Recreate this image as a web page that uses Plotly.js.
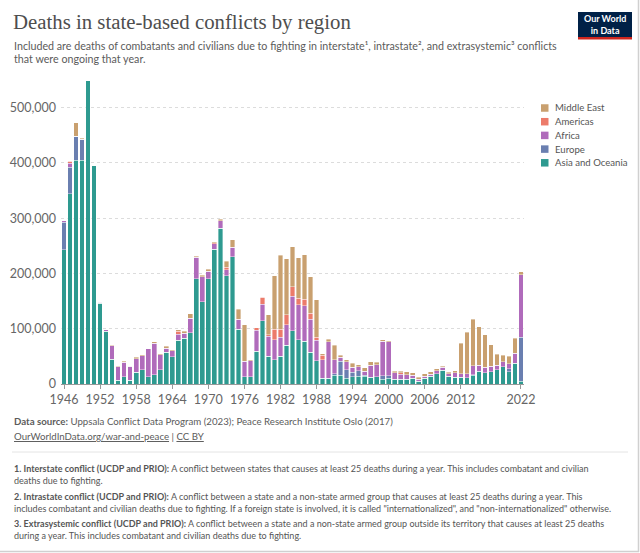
<!DOCTYPE html>
<html>
<head>
<meta charset="utf-8">
<script src="https://cdn.plot.ly/plotly-3.0.1.min.js"></script>
<style>
html,body{margin:0;padding:0;background:#fff;}
#chart{width:640px;height:553px;}
</style>
</head>
<body>
<div id="chart"></div>
<script>
const years = [1946,1947,1948,1949,1950,1951,1952,1953,1954,1955,1956,1957,1958,1959,1960,1961,1962,1963,1964,1965,
1966,1967,1968,1969,1970,1971,1972,1973,1974,1975,1976,1977,1978,1979,1980,1981,1982,1983,1984,1985,
1986,1987,1988,1989,1990,1991,1992,1993,1994,1995,1996,1997,1998,1999,2000,2001,2002,2003,2004,2005,
2006,2007,2008,2009,2010,2011,2012,2013,2014,2015,2016,2017,2018,2019,2020,2021,2022];

const asiaOceania = [243000,344000,405000,405000,549000,395000,146000,95000,45000,7000,13000,7000,21000,26000,13000,17000,26000,57000,49000,79000,
83000,93000,190000,149000,190000,244000,282000,196000,230000,99000,13000,13000,59000,114000,50000,44000,50000,70000,96000,80000,
77000,57000,42000,10000,10000,16000,16000,10000,13000,14000,14000,12000,13000,9000,10000,9000,9000,9000,10000,5000,
10000,14000,19000,25000,14000,12000,12000,11000,16000,22000,20000,22000,26000,31000,22000,38000,5000];

const europe = [50000,48000,43000,38000,0,0,0,0,0,0,0,0,0,0,0,0,0,0,0,0,
0,0,0,0,0,0,0,0,0,0,0,0,0,0,0,0,0,0,0,0,
0,0,0,0,0,3000,25000,16000,8000,10000,2000,0,0,6000,5000,0,0,0,0,0,
0,0,0,0,0,0,0,0,1000,1000,0,0,0,0,6000,0,80000];

const africa = [2000,7000,0,0,0,0,2000,3000,24000,24000,26000,25000,25000,25000,51000,57000,27000,8000,11000,11000,
9000,26000,39000,45000,14000,10000,13000,11000,17000,18000,28000,29000,38000,30000,36000,36000,35000,37000,63000,63000,
65000,60000,37000,34000,66000,25000,7000,14000,9000,7000,7000,22000,22000,62000,61000,11000,9000,8000,6000,4000,
4000,4000,5000,5000,5000,8000,7000,8000,16000,11000,10000,10000,8000,9000,9000,18000,113000];

const americas = [0,4000,0,0,0,0,0,0,0,0,0,0,0,0,0,0,0,0,0,5000,
0,0,0,0,0,2000,0,4000,0,0,0,0,5000,13000,3000,19000,14000,18000,17000,12000,
11000,11000,6000,8000,0,0,0,0,0,0,0,0,0,0,0,0,2000,0,0,0,
0,0,0,0,0,0,0,0,0,0,0,0,0,0,0,0,0];

const middleEast = [0,0,25000,2000,0,0,0,0,1000,1000,2000,0,2000,2000,0,2000,2000,3000,2000,3000,
3000,8000,2000,3000,4000,1000,3000,11000,14000,18000,66000,2000,0,0,36000,97000,134000,102000,72000,73000,
81000,66000,67000,3000,5000,26000,4000,4000,8000,4000,6000,6000,4000,3000,2000,3000,3000,5000,4000,3000,
5000,4000,4000,2000,2000,4000,55000,75000,84000,70000,59000,39000,20000,12000,13000,27000,5000];

const seriesNames = ["Asia and Oceania","Europe","Africa","Americas","Middle East"];
const seriesValues = [asiaOceania, europe, africa, americas, middleEast];
const seriesColors = ["#2e9a90","#6a7fb0","#b06bbb","#ec7b6a","#c9a06f"];

const xTickVals = [1946,1952,1958,1964,1970,1976,1982,1988,1994,2000,2006,2012,2022];
const yTickVals = [0,100000,200000,300000,400000,500000];

const W = 640, H = 553;
const M = {l:61, r:116, t:80, b:169};
const pw = W - M.l - M.r, ph = H - M.t - M.b;
const px = x => (x - M.l) / pw;
const py = y => (H - M.b - y) / ph;

const traces = seriesNames.map((name, i) => ({
  type: 'bar',
  name: name,
  x: years,
  y: seriesValues[i],
  marker: {color: seriesColors[i], line: {color: 'rgba(255,255,255,0.75)', width: 0.5}},
  showlegend: false,
  hovertemplate: '%{x}: %{y:,}<extra>' + name + '</extra>'
}));

const FONT = 'Lato, "Open Sans", sans-serif';
const annotations = [];
const shapes = [];
function textLine(x, y, text, size, color, anchor) {
  annotations.push({xref:'paper', yref:'paper', x:px(x), y:py(y), xanchor:anchor || 'left', yanchor:'middle',
    showarrow:false, text:text, font:{family:FONT, size:size, color:color}});
}

// Title & subtitle
annotations.push({xref:'paper', yref:'paper', x:px(11), y:py(22), xanchor:'left', yanchor:'middle', showarrow:false,
  text:'Deaths in state-based conflicts by region', font:{family:'"Liberation Serif", "DejaVu Serif", serif', size:20.8, color:'#4e4e4e'}});
textLine(12, 45, 'Included are deaths of combatants and civilians due to fighting in interstate¹, intrastate², and extrasystemic³ conflicts', 10.7, '#5b5b5b');
textLine(12, 58.5, 'that were ongoing that year.', 10.7, '#5b5b5b');

// Logo
shapes.push({type:'rect', xref:'paper', yref:'paper', x0:px(578), x1:px(632), y0:py(12), y1:py(39), fillcolor:'#002147', line:{width:0}, layer:'above'});
shapes.push({type:'rect', xref:'paper', yref:'paper', x0:px(578), x1:px(632), y0:py(37), y1:py(39.5), fillcolor:'#ce261e', line:{width:0}, layer:'above'});
annotations.push({xref:'paper', yref:'paper', x:px(605), y:py(24.5), xanchor:'center', yanchor:'middle', showarrow:false,
  text:'<b>Our World<br>in Data</b>', font:{family:FONT, size:9, color:'#ffffff'}});

// Legend (manual, top-to-bottom = reverse stacking order)
const legendTop = 108, legendStep = 13.7;
for (let k = 0; k < seriesNames.length; k++) {
  const i = seriesNames.length - 1 - k;
  const cy = legendTop + k * legendStep;
  shapes.push({type:'rect', xref:'paper', yref:'paper', x0:px(541), x1:px(548.5), y0:py(cy-3.75), y1:py(cy+3.75), fillcolor:seriesColors[i], line:{width:0}});
  textLine(552.5, cy, seriesNames[i], 9.6, '#555');
}

// Footer
textLine(12, 421, '<b>Data source:</b> Uppsala Conflict Data Program (2023); Peace Research Institute Oslo (2017)', 9.7, '#5b5b5b');
textLine(12, 436, '<u>OurWorldInData.org/war-and-peace</u> | <u>CC BY</u>', 9.7, '#5b5b5b');
shapes.push({type:'line', xref:'paper', yref:'paper', x0:px(12), x1:px(628), y0:py(452), y1:py(452), line:{color:'#e4e4e4', width:1}});
const noteLines = [
  '<b>1. Interstate conflict (UCDP and PRIO):</b> A conflict between states that causes at least 25 deaths during a year. This includes combatant and civilian',
  'deaths due to fighting.',
  '<b>2. Intrastate conflict (UCDP and PRIO):</b> A conflict between a state and a non-state armed group that causes at least 25 deaths during a year. This',
  'includes combatant and civilian deaths due to fighting. If a foreign state is involved, it is called "internationalized", and "non-internationalized" otherwise.',
  '<b>3. Extrasystemic conflict (UCDP and PRIO):</b> A conflict between a state and a non-state armed group outside its territory that causes at least 25 deaths',
  'during a year. This includes combatant and civilian deaths due to fighting.'
];
const noteYs = [468, 480.5, 496, 508.5, 523, 535.5];
noteLines.forEach((t, i) => textLine(12, noteYs[i], t, 9.0, '#555'));

// Frame border (right & bottom)
shapes.push({type:'line', xref:'paper', yref:'paper', x0:px(638.5), x1:px(638.5), y0:py(0), y1:py(552), line:{color:'#d0d0d0', width:1.5}});
shapes.push({type:'line', xref:'paper', yref:'paper', x0:px(0), x1:px(639), y0:py(551.5), y1:py(551.5), line:{color:'#d0d0d0', width:1.5}});

const layout = {
  width: W, height: H,
  margin: M,
  paper_bgcolor: '#fff', plot_bgcolor: '#fff',
  barmode: 'stack',
  bargap: 0.22,
  showlegend: false,
  font: {family: FONT, color: '#666'},
  xaxis: {
    range: [1945.5, 2022.5],
    tickvals: xTickVals,
    ticktext: xTickVals.map(String),
    ticks: 'outside', ticklen: 4, tickcolor: '#999',
    showline: true, linecolor: '#999', linewidth: 1,
    showgrid: false, zeroline: false,
    tickfont: {family: FONT, size: 12.5, color: '#666'}
  },
  yaxis: {
    range: [0, 550000],
    tickvals: yTickVals,
    tickformat: ',',
    showgrid: true, gridcolor: '#dcdcdc', griddash: 'dot', gridwidth: 1,
    zeroline: false, showline: false, ticks: '',
    ticklabelstandoff: 4,
    tickfont: {family: FONT, size: 12.5, color: '#666'}
  },
  annotations: annotations,
  shapes: shapes
};

Plotly.newPlot('chart', traces, layout, {displayModeBar: false, staticPlot: true});
</script>
</body>
</html>
